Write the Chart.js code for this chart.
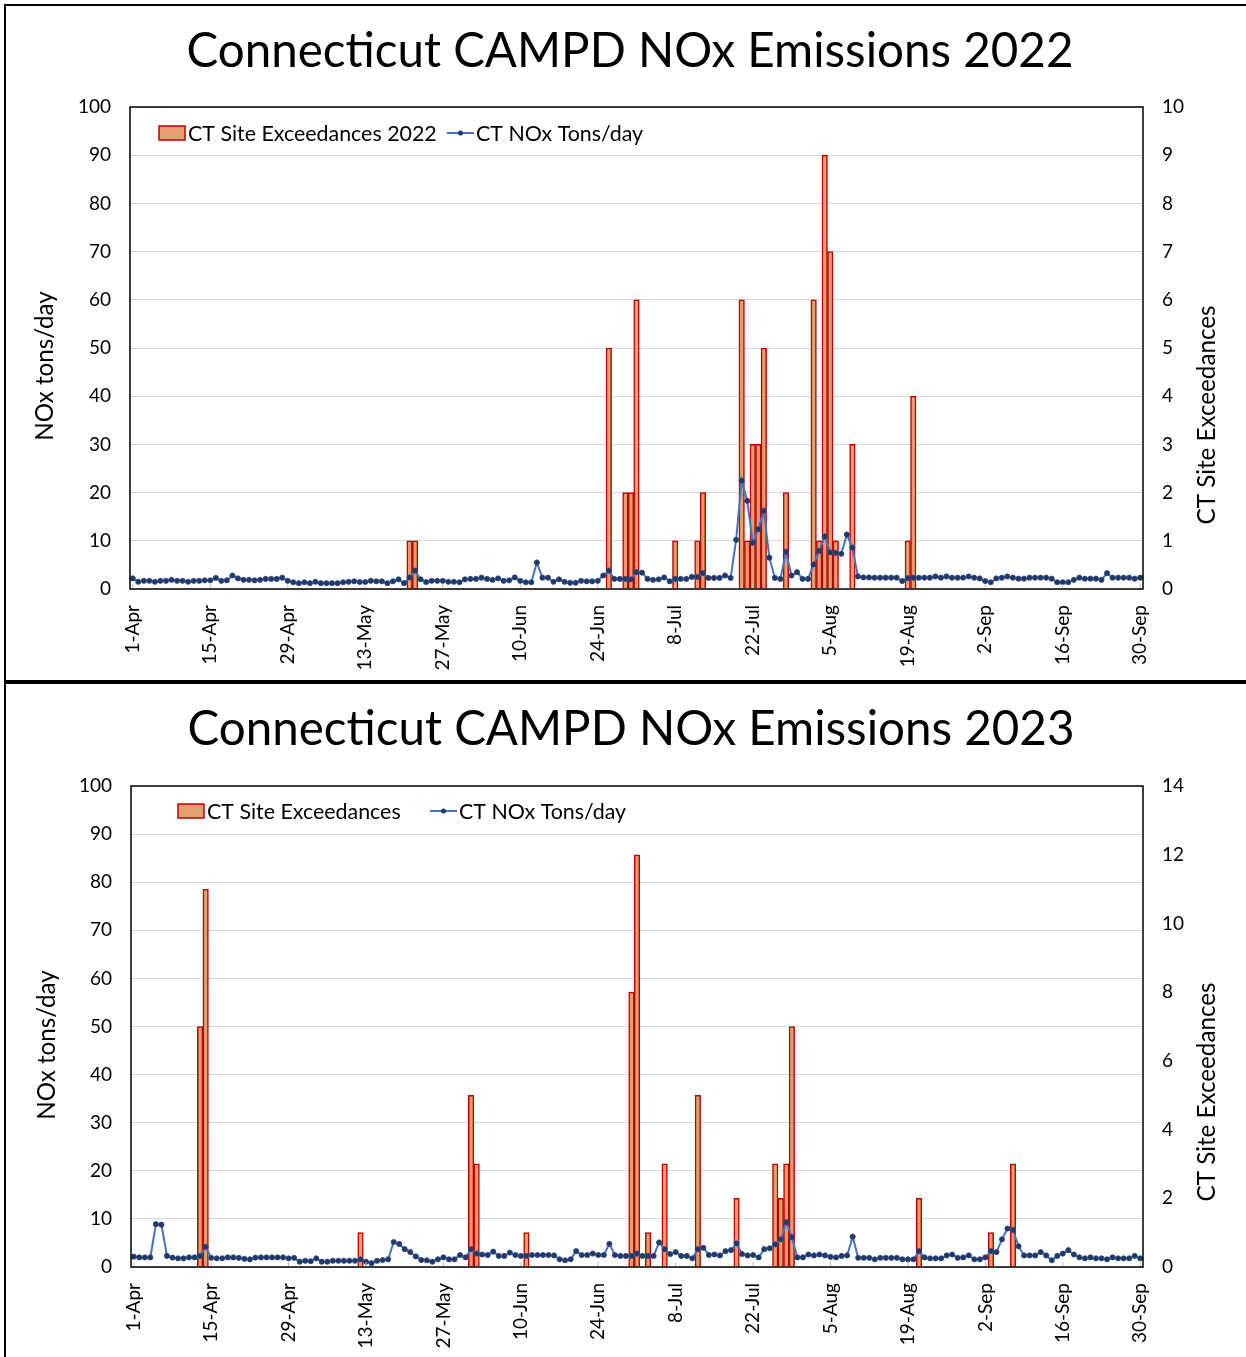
<!DOCTYPE html>
<html>
<head>
<meta charset="utf-8">
<script src="https://cdn.jsdelivr.net/npm/chart.js@4.4.1/dist/chart.umd.min.js"></script>
<style>
  body { margin:0; background:#fff; width:1246px; height:1357px; overflow:hidden; position:relative; font-family:Lato, sans-serif; }
  .frame { position:absolute; border-left:2px solid #000; border-top:2px solid #000; }
  .sep { position:absolute; left:4px; top:680px; width:1242px; height:4px; background:#000; }
  canvas { position:absolute; }
</style>
</head>
<body>
<div class="frame" style="left:4px;top:4px;width:1250px;height:676px;"></div>
<div class="sep"></div>
<div class="frame" style="left:4px;top:684px;width:1250px;height:680px;border-top:none;"></div>
<canvas id="chart2022" width="1239" height="673" style="left:7px;top:7px;"></canvas>
<canvas id="chart2023" width="1239" height="672" style="left:7px;top:685px;"></canvas>
<script>
/* === DATA === */
const monthNames = ["Apr","May","Jun","Jul","Aug","Sep"];
const monthDays  = [30, 31, 30, 31, 31, 30];
const xTickLabels = ["1-Apr","15-Apr","29-Apr","13-May","27-May","10-Jun","24-Jun","8-Jul","22-Jul","5-Aug","19-Aug","2-Sep","16-Sep","30-Sep"];

// CT NOx tons/day, one value per day 1-Apr .. 30-Sep
const nox2022 = [
  2.2,1.5,1.7,1.7,1.5,1.7,1.7,1.9,1.7,1.7,
  1.5,1.7,1.7,1.8,1.8,2.3,1.7,1.8,2.8,2.2,
  1.9,1.9,1.8,1.9,2.1,2.1,2.1,2.35,1.7,1.4,
  1.2,1.4,1.2,1.5,1.2,1.2,1.2,1.2,1.4,1.5,
  1.6,1.45,1.45,1.7,1.6,1.6,1.2,1.6,2.0,1.2,
  2.4,3.8,2.0,1.45,1.7,1.7,1.7,1.5,1.5,1.4,
  2.0,2.1,2.1,2.35,2.1,1.9,2.2,1.7,1.8,2.4,
  1.7,1.4,1.4,5.5,2.35,2.35,1.5,2.0,1.5,1.3,
  1.3,1.7,1.6,1.6,1.7,2.8,3.8,2.1,2.1,2.1,
  2.0,3.5,3.4,2.1,1.9,2.0,2.4,1.6,2.1,2.1,
  2.1,2.5,2.5,3.3,2.3,2.3,2.3,2.8,2.3,10.2,
  22.5,18.3,9.6,12.4,16.2,6.5,2.3,2.1,7.7,2.8,
  3.5,2.1,2.1,5.1,7.9,10.9,7.6,7.5,7.3,11.3,
  8.6,2.6,2.4,2.4,2.35,2.35,2.35,2.35,2.35,1.65,
  2.25,2.35,2.35,2.35,2.35,2.6,2.35,2.6,2.35,2.35,
  2.35,2.6,2.35,2.2,1.65,1.4,2.2,2.35,2.6,2.35,
  2.15,2.15,2.35,2.35,2.35,2.35,2.15,1.4,1.4,1.4,
  1.9,2.35,2.15,2.15,2.15,1.9,3.3,2.35,2.35,2.35,
  2.35,2.15,2.35
];
const exceedDays2022   = ["21-May","22-May","26-Jun","29-Jun","30-Jun","1-Jul","8-Jul","12-Jul","13-Jul","20-Jul","21-Jul","22-Jul","23-Jul","24-Jul","28-Jul","2-Aug","3-Aug","4-Aug","5-Aug","6-Aug","9-Aug","19-Aug","20-Aug"];
const exceedCounts2022 = [1,1,5,2,2,6,1,1,2,6,1,3,3,5,2,6,1,9,7,1,3,1,4];

const nox2023 = [
  2.15,2.0,2.0,2.0,8.9,8.8,2.3,1.95,1.8,1.8,
  2.0,2.0,2.3,4.2,1.9,1.8,1.8,2.0,2.0,1.9,
  1.7,1.6,1.95,2.0,2.0,2.0,2.0,2.0,1.8,1.9,
  1.1,1.3,1.2,1.8,1.1,1.1,1.3,1.3,1.3,1.3,
  1.3,1.6,1.1,0.8,1.3,1.45,1.6,5.2,4.8,3.7,
  3.1,2.2,1.45,1.4,1.1,1.6,2.0,1.6,1.6,2.5,
  2.0,3.7,2.8,2.6,2.5,3.2,2.3,2.3,3.0,2.5,
  2.3,2.3,2.5,2.5,2.5,2.5,2.4,1.6,1.4,1.6,
  3.3,2.5,2.5,2.8,2.5,2.5,4.8,2.5,2.3,2.3,
  2.3,2.8,2.3,2.3,2.3,5.1,3.7,2.7,3.1,2.3,
  2.3,1.8,3.7,4.0,2.5,2.6,2.4,3.3,3.5,4.9,
  2.7,2.4,2.5,2.0,3.7,3.9,4.7,5.75,9.3,6.2,
  2.0,2.0,2.6,2.4,2.6,2.4,2.1,2.0,2.3,2.4,
  6.3,1.9,1.9,1.9,1.6,1.9,1.9,1.9,1.9,1.6,
  1.6,1.6,3.3,2.0,1.8,1.8,1.8,2.4,2.6,1.9,
  2.0,2.4,1.6,1.6,2.0,3.3,3.1,5.75,8.0,7.7,
  4.3,2.4,2.4,2.4,3.1,2.4,1.4,2.3,2.8,3.5,
  2.6,2.0,1.8,2.0,1.8,1.8,1.6,2.0,1.8,1.8,
  1.8,2.3,1.8
];
const exceedDays2023   = ["13-Apr","14-Apr","12-May","1-Jun","2-Jun","11-Jun","30-Jun","1-Jul","3-Jul","6-Jul","12-Jul","19-Jul","26-Jul","27-Jul","28-Jul","29-Jul","21-Aug","3-Sep","7-Sep"];
const exceedCounts2023 = [7,11,1,5,3,1,8,12,1,3,5,2,3,2,3,7,2,1,3];

/* === LABELS === */
const dayLabels = [];
monthNames.forEach((m, i) => { for(let d = 1; d <= monthDays[i]; d++) dayLabels.push(d + "-" + m); });

const FONT = "Lato, 'Open Sans', sans-serif";
const BAR_FILL = "#E2A06E", BAR_LINE = "#C00000", LINE_BLUE = "#4472C4", DOT = "#1F3864";

/* === DECOR PLUGIN: title, axis titles, legend, frame === */
const decor = {
  id: "decor",
  afterDraw(chart, args, o){
    const ctx = chart.ctx, a = chart.chartArea;
    ctx.save();
    // frame
    ctx.strokeStyle = "#000"; ctx.lineWidth = 1.5;
    ctx.strokeRect(a.left, a.top, a.right - a.left, a.bottom - a.top);
    // small inside ticks at labelled dates
    const xs = chart.scales.x;
    ctx.strokeStyle = "#bfbfbf"; ctx.lineWidth = 1;
    xTickLabels.forEach(l => {
      const px = xs.getPixelForValue(dayLabels.indexOf(l));
      ctx.beginPath(); ctx.moveTo(px, a.bottom - 5); ctx.lineTo(px, a.bottom - 1); ctx.stroke();
    });
    ctx.fillStyle = "#000";
    ctx.textAlign = "center"; ctx.textBaseline = "middle";
    ctx.font = "47.5px " + FONT;
    ctx.fillText(o.title, o.titleX, o.titleY);
    ctx.font = "24.2px " + FONT;
    [o.leftTitle, o.rightTitle].forEach(t => {
      ctx.save(); ctx.translate(t.x, t.y); ctx.rotate(-Math.PI/2);
      ctx.fillText(t.text, 0, 0); ctx.restore();
    });
    // legend
    const L = o.legend;
    ctx.font = "21.4px " + FONT; ctx.textAlign = "left";
    ctx.fillStyle = BAR_FILL; ctx.fillRect(L.boxX, L.y - 7, 26, 14);
    ctx.strokeStyle = BAR_LINE; ctx.lineWidth = 1.5; ctx.strokeRect(L.boxX, L.y - 7, 26, 14);
    ctx.fillStyle = "#000"; ctx.fillText(L.barText, L.boxX + 29, L.y + 1);
    ctx.strokeStyle = LINE_BLUE; ctx.lineWidth = 2;
    ctx.beginPath(); ctx.moveTo(L.lineX, L.y); ctx.lineTo(L.lineX + 27, L.y); ctx.stroke();
    ctx.fillStyle = DOT; ctx.beginPath(); ctx.arc(L.lineX + 13.5, L.y, 2.5, 0, Math.PI*2); ctx.fill();
    ctx.fillStyle = "#000"; ctx.fillText(L.lineText, L.lineX + 29, L.y + 1);
    ctx.restore();
  }
};

function makeChart(id, nox, exDays, exCounts, rightMax, rightStep, dims, decorOpts){
  const ctx = document.getElementById(id).getContext("2d");
  return new Chart(ctx, {
    data: {
      labels: dayLabels,
      datasets: [
        { type:"line", label:"CT NOx Tons/day", data:nox, yAxisID:"y", order:1,
          borderColor:LINE_BLUE, borderWidth:2, tension:0,
          pointRadius:2.6, pointBackgroundColor:DOT, pointBorderColor:"#2E4A86", pointBorderWidth:0.8 },
        { type:"bar", label:decorOpts.legend.barText, yAxisID:"y1", order:2,
          data: exDays.map((d, i) => ({ x:d, y:exCounts[i] })),
          backgroundColor:BAR_FILL, borderColor:BAR_LINE, borderWidth:1.5,
          barPercentage:1, categoryPercentage:1 }
      ]
    },
    options: {
      responsive:false, animation:false,
      layout:{ padding:{ top:dims.top, left:0, right:0, bottom:0 } },
      plugins:{ legend:{display:false}, tooltip:{enabled:false}, title:{display:false}, decor:decorOpts },
      scales:{
        x:{ type:"category", offset:true,
            grid:{ display:false }, border:{ display:false },
            ticks:{ autoSkip:false, maxRotation:90, minRotation:90, padding:8,
                    color:"#000", font:{ family:FONT, size:19 },
                    callback:function(v){ const l = dayLabels[v]; return xTickLabels.includes(l) ? l : ""; } },
            afterFit:s => { s.height = dims.bottom; } },
        y:{ position:"left", min:0, max:100,
            grid:{ color:"#d9d9d9", drawTicks:false, tickLength:0 }, border:{ display:false },
            ticks:{ stepSize:10, padding:19, color:"#000", font:{ family:FONT, size:19 } },
            afterFit:s => { s.width = dims.left; } },
        y1:{ position:"right", min:0, max:rightMax,
            grid:{ drawOnChartArea:false, drawTicks:false, tickLength:0 }, border:{ display:false },
            ticks:{ stepSize:rightStep, padding:19, color:"#000", font:{ family:FONT, size:19 } },
            afterFit:s => { s.width = dims.right; } }
      }
    },
    plugins:[decor]
  });
}

makeChart("chart2022", nox2022, exceedDays2022, exceedCounts2022, 10, 1,
  { top:100, left:123, right:103, bottom:91 },
  { title:"Connecticut CAMPD NOx Emissions 2022", titleX:623, titleY:45,
    leftTitle:{ text:"NOx tons/day", x:38, y:359 },
    rightTitle:{ text:"CT Site Exceedances", x:1200, y:408 },
    legend:{ boxX:152, y:126, barText:"CT Site Exceedances 2022", lineX:440, lineText:"CT NOx Tons/day" } });

makeChart("chart2023", nox2023, exceedDays2023, exceedCounts2023, 14, 2,
  { top:101, left:124, right:103, bottom:90 },
  { title:"Connecticut CAMPD NOx Emissions 2023", titleX:624, titleY:45,
    leftTitle:{ text:"NOx tons/day", x:40, y:360 },
    rightTitle:{ text:"CT Site Exceedances", x:1200, y:407 },
    legend:{ boxX:171, y:126, barText:"CT Site Exceedances", lineX:423, lineText:"CT NOx Tons/day" } });
</script>
</body>
</html>
